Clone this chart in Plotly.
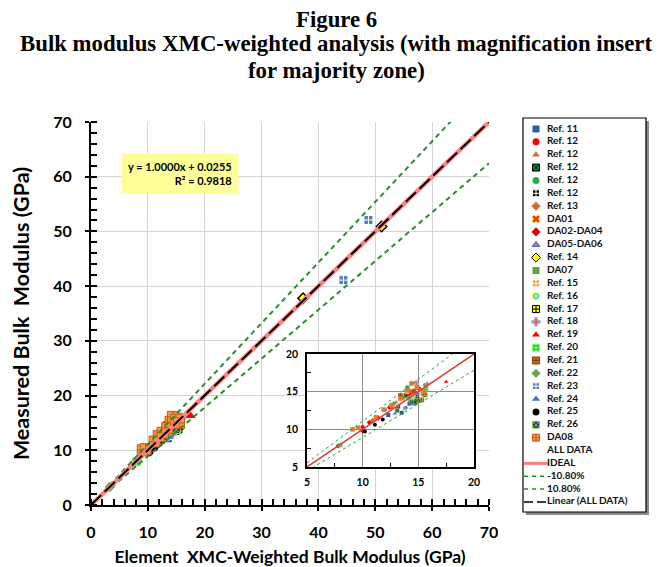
import plotly.graph_objects as go

# ---------------- data ----------------
names = ["Ref. 11", "Ref. 12", "Ref. 12", "Ref. 12", "Ref. 12", "Ref. 12", "Ref. 13",
         "DA01", "DA02-DA04", "DA05-DA06", "Ref. 14", "DA07", "Ref. 15", "Ref. 16",
         "Ref. 17", "Ref. 18", "Ref. 19", "Ref. 20", "Ref. 21", "Ref. 22", "Ref. 23",
         "Ref. 24", "Ref. 25", "Ref. 26", "DA08"]

ref11_x = [12.3, 13.5, 14.2, 14.8];            ref11_y = [11.9, 12.2, 13.4, 14.1]
ref12a_x = [10.0, 12.4, 14.3, 15.1];           ref12a_y = [10.3, 12.9, 14.8, 15.4]
ref12b_x = [13.0, 14.6, 15.4];                 ref12b_y = [13.6, 15.0, 14.6]
ref12c_x = [13.9, 14.7];                       ref12c_y = [14.5, 13.6]
ref12d_x = [12.0, 14.0, 15.6];                 ref12d_y = [12.6, 15.6, 15.9]
ref12e_x = [13.2, 14.9];                       ref12e_y = [13.0, 14.4]
ref13_x = [10.9, 12.6, 14.5];                  ref13_y = [11.2, 13.0, 14.9]
da01_x = [14.4, 15.2];                         da01_y = [14.0, 15.2]
da02_x = [7.8, 10.0, 10.6, 11.4, 14.1];        da02_y = [7.8, 9.8, 10.9, 11.5, 14.6]
da05_x = [14.2, 15.0];                         da05_y = [15.2, 14.8]
ref14_x = [37.3, 51.1];                        ref14_y = [37.8, 50.9]
da07_x = [13.6, 14.3];                         da07_y = [14.2, 13.9]
ref15_x = [14.0, 14.8, 15.5];                  ref15_y = [15.0, 15.8, 15.1]
ref16_x = [14.5, 15.3];                        ref16_y = [14.3, 15.0]
ref17_x = [15.3, 15.6];                        ref17_y = [13.9, 14.6]
ref18_x = [14.8, 15.8];                        ref18_y = [16.2, 16.0]
ref19_x = [17.5, 14.9];                        ref19_y = [16.3, 15.4]
ref20_x = [8.0, 14.2, 15.7];                   ref20_y = [7.9, 14.0, 15.4]
ref21_x = [13.4, 14.6];                        ref21_y = [14.5, 15.1]
ref22_x = [3.3, 12.8, 14.1];                   ref22_y = [3.3, 13.4, 14.2]
ref23_x = [44.4, 48.8, 13.8];                  ref23_y = [41.1, 52.1, 12.8]
ref24_x = [12.9, 13.9, 14.6];                  ref24_y = [12.1, 12.9, 13.3]
ref25_x = [10.2, 11.1, 11.8];                  ref25_y = [9.7, 10.6, 11.3]
ref26_x = [13.1, 14.4, 15.0];                  ref26_y = [12.5, 13.6, 13.8]
da08_x = [9.1, 9.6, 11.2, 11.9, 12.6, 13.4, 14.0, 14.4, 14.9, 15.5]
da08_y = [10.0, 10.2, 11.6, 12.6, 13.2, 14.1, 15.2, 16.1, 15.6, 15.0]

series_x = [ref11_x, ref12a_x, ref12b_x, ref12c_x, ref12d_x, ref12e_x, ref13_x, da01_x,
            da02_x, da05_x, ref14_x, da07_x, ref15_x, ref16_x, ref17_x, ref18_x, ref19_x,
            ref20_x, ref21_x, ref22_x, ref23_x, ref24_x, ref25_x, ref26_x, da08_x]
series_y = [ref11_y, ref12a_y, ref12b_y, ref12c_y, ref12d_y, ref12e_y, ref13_y, da01_y,
            da02_y, da05_y, ref14_y, da07_y, ref15_y, ref16_y, ref17_y, ref18_y, ref19_y,
            ref20_y, ref21_y, ref22_y, ref23_y, ref24_y, ref25_y, ref26_y, da08_y]

fit_slope = 1.0000
fit_intercept = 0.0255
r_squared = 0.9818
band = 0.108
line_names = ["ALL DATA", "IDEAL", "-10.80%", "10.80%", "Linear (ALL DATA)"]
title_lines = ["Figure 6",
               "Bulk modulus XMC-weighted analysis (with magnification insert",
               "for majority zone)"]
main_range = [0, 70]
inset_range = [5, 20]

# ---------------- layout helpers (page has an 8px body margin) ----------------
OFF = 8
W, H = 672 - OFF, 567 - OFF


def px2x(px):
    return (px - OFF) / W


def py2y(py):
    return 1 - (py - OFF) / H


# ---------------- styles ----------------
symbols = ["square", "circle", "triangle-up", "square-x", "circle", "square-cross", "diamond",
           "x", "diamond", "triangle-up", "diamond", "square", "square-cross", "square-x",
           "square-cross", "cross", "triangle-up", "square-cross", "square-cross", "diamond",
           "square-cross", "triangle-up", "circle", "square-x", "square-cross"]
fills = ["#2E5C9E", "#FF0000", "#C8733A", "#00A040", "#22B04C", "#000000", "#D0702C",
         "#FF3000", "#E00000", "#E060A0", "#FFFF00", "#5FA83C", "#F79646", "#4BC8E8",
         "#FFFF00", "#E06666", "#FF0000", "#22C422", "#E36C09", "#6AA84F",
         "#4F81BD", "#4472C4", "#000000", "#1F3864", "#F79646"]
edges = ["#2E5C9E", "#FF0000", "#C8733A", "#000000", "#22B04C", "#FFFFFF", "#D0702C",
         "#FFC000", "#E00000", "#4472C4", "#000000", "#C55A11", "#FFFFFF", "#FFFF66",
         "#000000", "#9FC5E8", "#FF0000", "#88FF88", "#7F3F00", "#6AA84F",
         "#FFFFFF", "#4472C4", "#000000", "#92D050", "#C55A11"]
edge_w = [0, 0, 0, 1, 0, 1, 0, 1, 0, 1, 1.5, 0, 1, 1, 1, 1, 0, 1, 1, 0, 1, 0, 0, 1, 1]
main_sizes = [8, 8, 8, 8, 8, 8, 8, 9, 8, 8, 8, 8, 9, 8, 8, 8, 9, 8, 8, 8, 9, 8, 9, 8, 11]

fig = go.Figure()

# main scatter + inset scatter
for i, nm in enumerate(names):
    mk = dict(symbol=symbols[i], color=fills[i], size=main_sizes[i],
              line=dict(color=edges[i], width=edge_w[i]))
    fig.add_trace(go.Scatter(x=series_x[i], y=series_y[i], mode="markers", name=nm,
                             marker=mk, xaxis="x", yaxis="y", showlegend=False))
for i, nm in enumerate(names):
    mk = dict(symbol=symbols[i], color=fills[i], size=4,
              line=dict(color=edges[i], width=min(edge_w[i], 0.5)))
    fig.add_trace(go.Scatter(x=series_x[i], y=series_y[i], mode="markers", name=nm,
                             marker=mk, xaxis="x2", yaxis="y2", showlegend=False))

# reference lines (main)
lx = main_range
fig.add_trace(go.Scatter(x=lx, y=[v * (1 + band) for v in lx], mode="lines", xaxis="x", yaxis="y",
                         line=dict(color="#2E8B2E", width=2, dash="5px,4px"), showlegend=False))
fig.add_trace(go.Scatter(x=lx, y=[v * (1 - band) for v in lx], mode="lines", xaxis="x", yaxis="y",
                         line=dict(color="#2E8B2E", width=2, dash="5px,4px"), showlegend=False))
fig.add_trace(go.Scatter(x=lx, y=lx, mode="lines", xaxis="x", yaxis="y",
                         line=dict(color="#FF8080", width=4.5), showlegend=False))
fig.add_trace(go.Scatter(x=lx, y=[fit_slope * v + fit_intercept for v in lx], mode="lines",
                         xaxis="x", yaxis="y", line=dict(color="#000000", width=2, dash="14px,5px"),
                         showlegend=False))
# reference lines (inset)
ix = inset_range
fig.add_trace(go.Scatter(x=ix, y=[v * (1 + band) for v in ix], mode="lines", xaxis="x2", yaxis="y2",
                         line=dict(color="#3A9A3A", width=1, dash="3px,3px"), showlegend=False))
fig.add_trace(go.Scatter(x=ix, y=[v * (1 - band) for v in ix], mode="lines", xaxis="x2", yaxis="y2",
                         line=dict(color="#3A9A3A", width=1, dash="3px,3px"), showlegend=False))
fig.add_trace(go.Scatter(x=ix, y=ix, mode="lines", xaxis="x2", yaxis="y2",
                         line=dict(color="#E03C3C", width=1.5), showlegend=False))

# ---------------- custom legend panel (x3/y3) ----------------
leg_labels = names + line_names
leg_idx = list(range(len(leg_labels)))
mk_x = 13
for i in range(len(names)):
    fig.add_trace(go.Scatter(x=[mk_x], y=[leg_idx[i]], mode="markers", xaxis="x3", yaxis="y3",
                             marker=dict(symbol=symbols[i], color=fills[i], size=7,
                                         line=dict(color=edges[i], width=min(edge_w[i], 1))),
                             showlegend=False, hoverinfo="skip"))
line_styles = [None,
               dict(color="#FF8080", width=3),
               dict(color="#2E8B2E", width=1.5, dash="4px,4px"),
               dict(color="#2E8B2E", width=1.5, dash="4px,4px"),
               dict(color="#000000", width=1.5, dash="9px,4px")]
for k, st in enumerate(line_styles):
    if st is None:
        continue
    yy = leg_idx[len(names) + k]
    fig.add_trace(go.Scatter(x=[1, 25], y=[yy, yy], mode="lines", xaxis="x3", yaxis="y3",
                             line=st, showlegend=False, hoverinfo="skip", cliponaxis=False))
fig.add_trace(go.Scatter(x=[24] * len(leg_labels), y=leg_idx, mode="text", text=leg_labels,
                         textposition="middle right", xaxis="x3", yaxis="y3", cliponaxis=False,
                         textfont=dict(family="Lato", size=10, color="#111111", weight="bold"),
                         showlegend=False, hoverinfo="skip"))

tickfont_main = dict(family="Lato", size=16, color="#000000", weight="bold")

fig.update_layout(
    width=W, height=H,
    margin=dict(l=0, r=0, t=0, b=0),
    paper_bgcolor="white", plot_bgcolor="white",
    showlegend=False,
    xaxis=dict(domain=[px2x(91), px2x(489)], range=main_range, dtick=10, anchor="y",
               automargin=False,
               showgrid=True, gridcolor="#D4D4D4", gridwidth=1, zeroline=False,
               showline=True, linecolor="#000000", linewidth=2,
               ticks="outside", ticklen=4, tickwidth=2, tickcolor="#000000",
               minor=dict(ticks="inside", dtick=2, ticklen=6, tickwidth=1.5, tickcolor="#000000",
                          showgrid=False),
               tickfont=tickfont_main, ticklabelstandoff=8,
               title=dict(text="Element  XMC-Weighted Bulk Modulus (GPa)", standoff=12,
                          font=dict(family="Lato", size=17.5, color="#000000", weight="bold"))),
    yaxis=dict(domain=[py2y(505), py2y(122)], range=main_range, dtick=10, anchor="x",
               automargin=False,
               showgrid=True, gridcolor="#D4D4D4", gridwidth=1, zeroline=False,
               showline=True, linecolor="#000000", linewidth=2,
               ticks="outside", ticklen=4, tickwidth=2, tickcolor="#000000",
               minor=dict(ticks="inside", dtick=2, ticklen=6, tickwidth=1.5, tickcolor="#000000",
                          showgrid=False),
               tickfont=tickfont_main, ticklabelstandoff=10,
               title=dict(text="Measured Bulk  Modulus (GPa)", standoff=24,
                          font=dict(family="Lato", size=21.5, color="#000000", weight="bold"))),
    xaxis2=dict(domain=[px2x(307), px2x(474)], range=inset_range, dtick=5, anchor="y2",
                automargin=False,
                showgrid=True, gridcolor="#8C8C8C", gridwidth=1, zeroline=False,
                showline=True, mirror=True, linecolor="#000000", linewidth=1.5,
                ticks="", minor=dict(ticks="inside", dtick=2.5, ticklen=4, tickcolor="#000000",
                                     showgrid=False),
                tickfont=dict(family="Lato", size=10.5, color="#000000", weight="bold"),
                ticklabelstandoff=5),
    yaxis2=dict(domain=[py2y(467), py2y(354)], range=inset_range, dtick=5, anchor="x2",
                automargin=False,
                showgrid=True, gridcolor="#8C8C8C", gridwidth=1, zeroline=False,
                showline=True, mirror=True, linecolor="#000000", linewidth=1.5,
                ticks="", minor=dict(ticks="inside", dtick=2.5, ticklen=4, tickcolor="#000000",
                                     showgrid=False),
                tickfont=dict(family="Lato", size=10.5, color="#000000", weight="bold"),
                ticklabelstandoff=5),
    xaxis3=dict(domain=[px2x(523), px2x(646)], range=[0, 123], anchor="y3", visible=False,
                fixedrange=True, automargin=False),
    yaxis3=dict(domain=[py2y(512), py2y(118)], range=[29.78, -0.855], anchor="x3", visible=False,
                fixedrange=True, automargin=False),
    shapes=[
        dict(type="rect", xref="x2", yref="y2", x0=inset_range[0], x1=inset_range[1],
             y0=inset_range[0], y1=inset_range[1], fillcolor="white", line=dict(width=0),
             layer="below"),
        dict(type="rect", xref="paper", yref="paper", x0=px2x(526), x1=px2x(649),
             y0=py2y(515), y1=py2y(121), fillcolor="#8C8C8C", line=dict(width=0), layer="below"),
        dict(type="rect", xref="paper", yref="paper", x0=px2x(523), x1=px2x(646),
             y0=py2y(512), y1=py2y(118), fillcolor="white",
             line=dict(color="#000000", width=1.2), layer="below"),
    ],
    annotations=[
        dict(text=title_lines[0], xref="paper", yref="paper", x=px2x(336), y=py2y(19),
             xanchor="center", yanchor="middle", showarrow=False,
             font=dict(family="Liberation Serif", size=22.8, color="#000000", weight="bold")),
        dict(text=title_lines[1], xref="paper", yref="paper", x=px2x(336), y=py2y(44),
             xanchor="center", yanchor="middle", showarrow=False,
             font=dict(family="Liberation Serif", size=22.8, color="#000000", weight="bold")),
        dict(text=title_lines[2], xref="paper", yref="paper", x=px2x(336), y=py2y(70),
             xanchor="center", yanchor="middle", showarrow=False,
             font=dict(family="Liberation Serif", size=22.8, color="#000000", weight="bold")),
        dict(text=f"y = {fit_slope:.4f}x + {fit_intercept:.4f}<br>R² = {r_squared:.4f}",
             xref="paper", yref="paper", x=px2x(180), y=py2y(174),
             xanchor="center", yanchor="middle",
             showarrow=False, align="right", bgcolor="#FFFF99", borderpad=6,
             font=dict(family="Lato", size=11, color="#000000", weight="bold")),
    ],
)

fig.write_html("out.html")
